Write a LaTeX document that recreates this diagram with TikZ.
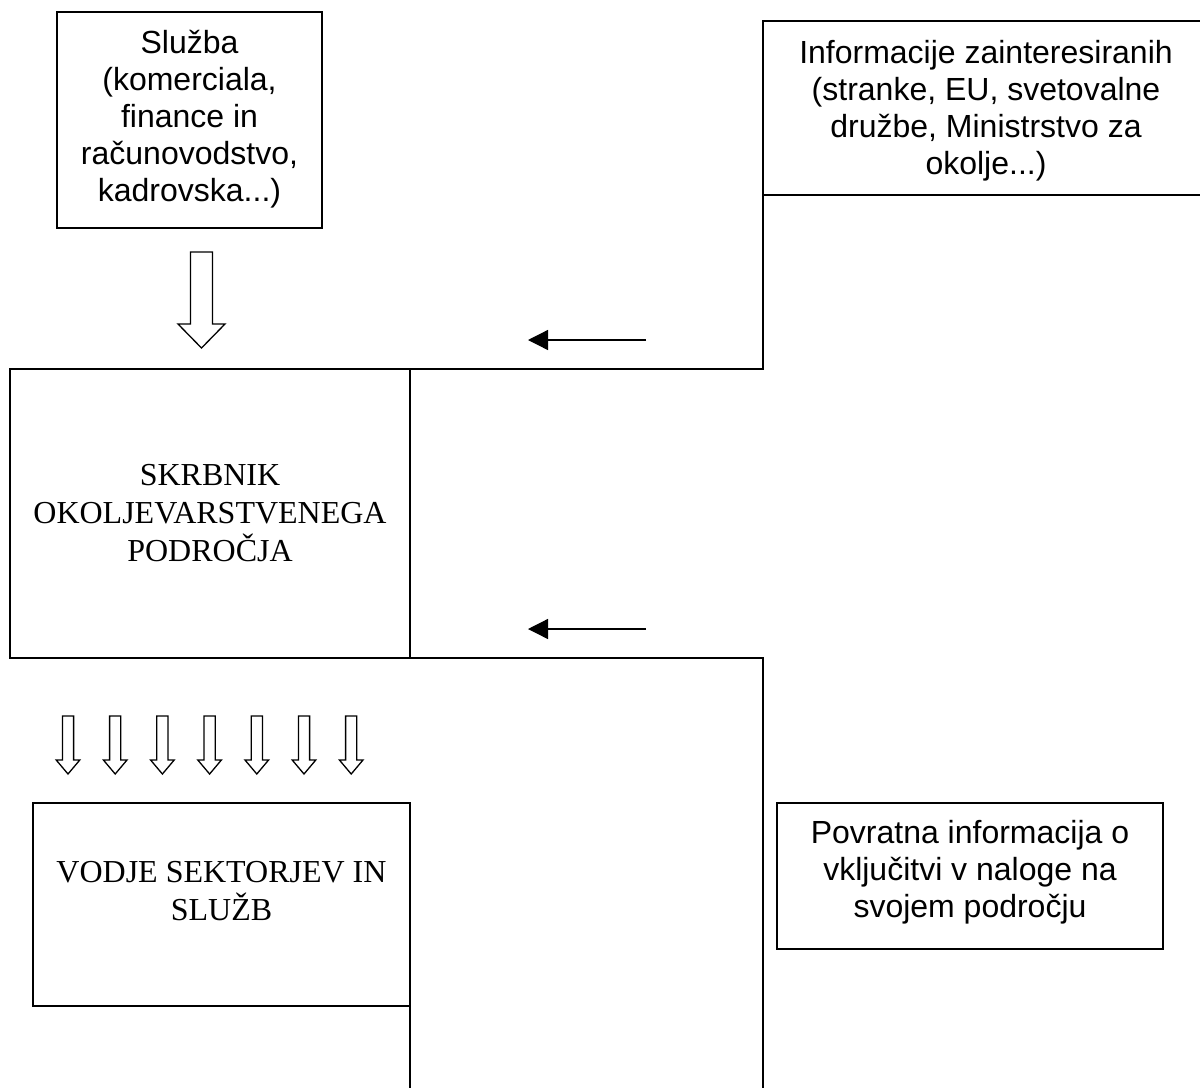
\documentclass[tikz,border=0pt]{standalone}
\usepackage{fontspec}
\setmainfont{Liberation Serif}
\setsansfont{Liberation Sans}
\usetikzlibrary{arrows.meta}
\begin{document}
\begin{tikzpicture}[x=1pt,y=-1pt,line width=1.3pt,
  box/.style={draw,rectangle,inner sep=0pt,outer sep=0pt,line width=1.3pt},
  sanstext/.style={font=\sffamily\fontsize{32}{37}\selectfont,anchor=base,inner sep=0pt},
  seriftext/.style={font=\rmfamily\fontsize{32}{38}\selectfont,anchor=base,inner sep=0pt},
  hollow/.style={draw,fill=white,line width=1.3pt,line join=miter},
  thinarrow/.style={line width=1.3pt,-{Triangle[length=20pt,width=20pt]}}]
\useasboundingbox (0,0) rectangle (1200,1088);

% boxes
\node[box,minimum width=265pt,minimum height=216pt] (sluzba) at (189.5,120) {};
\node[box,minimum width=400pt,minimum height=289pt] (skrbnik) at (210,513.5) {};
\node[box,minimum width=377pt,minimum height=203pt] (vodje) at (221.5,904.5) {};
\node[box,minimum width=386pt,minimum height=146pt] (povratna) at (970,876) {};

% texts
\node[sanstext] (tSluzba) at (189.5,53) {\begin{tabular}[t]{@{}c@{}}Služba\\(komerciala,\\finance in\\računovodstvo,\\kadrovska...)\end{tabular}};
\node[sanstext] (tInfo) at (986,63) {\begin{tabular}[t]{@{}c@{}}Informacije zainteresiranih\\(stranke, EU, svetovalne\\družbe, Ministrstvo za\\okolje...)\end{tabular}};
\node[seriftext] (tSkrbnik) at (210,485) {\begin{tabular}[t]{@{}c@{}}SKRBNIK\\OKOLJEVARSTVENEGA\\PODROČJA\end{tabular}};
\node[seriftext] (tVodje) at (221.5,882) {\begin{tabular}[t]{@{}c@{}}VODJE SEKTORJEV IN\\SLUŽB\end{tabular}};
\node[sanstext] (tPovratna) at (970,843) {\begin{tabular}[t]{@{}c@{}}Povratna informacija o\\vključitvi v naloge na\\svojem področju\end{tabular}};

% info box frame (open at the right edge of the picture)
\coordinate (infoTL) at (763,21);
\coordinate (infoTR) at (1200,21);
\coordinate (infoBL) at (763,195);
\coordinate (infoBR) at (1200,195);
\coordinate (infoFoot) at (763,369);
\draw (infoTR) -- (infoTL) -- (infoFoot) -- (skrbnik.north east);
\draw (infoBL) -- (infoBR);

% lower frame line
\coordinate (lowCorner) at (763,658);
\coordinate (lowEnd) at (763,1088);
\draw (skrbnik.south east) -- (lowCorner) -- (lowEnd);

% extension below vodje
\coordinate (vx1) at (410,909);
\coordinate (vx2) at (410,1088);
\draw (vx1) -- (vx2);

% thin arrows
\coordinate (a1s) at (646,340);
\coordinate (a1e) at (528,340);
\draw[thinarrow] (a1s) -- (a1e);
\coordinate (a2s) at (646,629);
\coordinate (a2e) at (528,629);
\draw[thinarrow] (a2s) -- (a2e);

% big hollow arrow
\draw[hollow] (190.5,252) -- (212.5,252) -- (212.5,324) -- (225,324) -- (201.5,348) -- (178,324) -- (190.5,324) -- cycle;

% seven small hollow arrows
\foreach \i in {0,...,6}{
  \pgfmathsetmacro{\cx}{68+47.2*\i}
  \draw[hollow] (\cx-5.6,716) -- (\cx+5.6,716) -- (\cx+5.6,760) -- (\cx+11.8,760) -- (\cx,774) -- (\cx-11.8,760) -- (\cx-5.6,760) -- cycle;
}
\end{tikzpicture}
\end{document}
